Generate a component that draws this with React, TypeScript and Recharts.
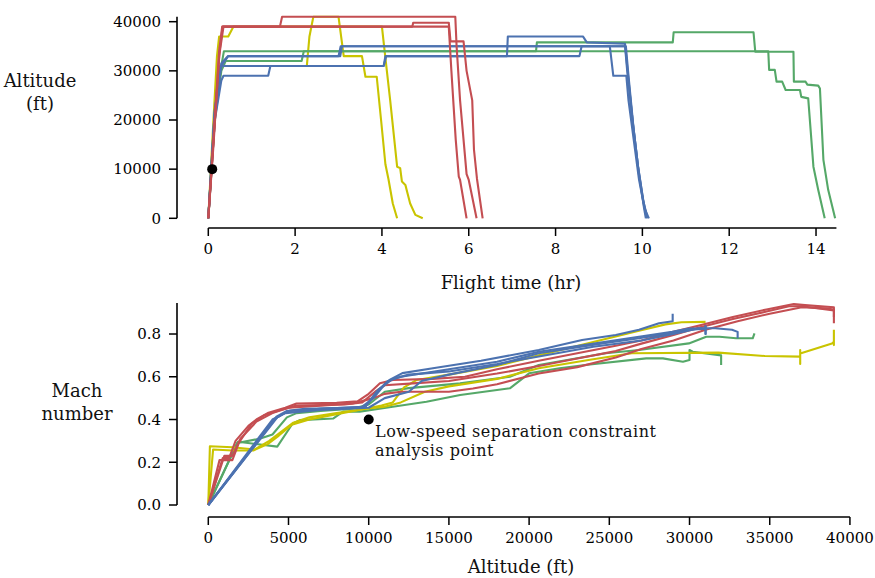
import React from 'react';
import { LineChart, Line, XAxis, YAxis, ReferenceLine, ReferenceDot } from 'recharts';

type P = [number, number];

const RED = '#C44E52';
const BLUE = '#4C72B0';
const GREEN = '#55A868';
const YELLOW = '#C9C400';
const FONT = '"DejaVu Serif", serif';

// ---------- tick labels ----------
const TOP_X_TICKS = [0, 2, 4, 6, 8, 10, 12, 14];
const TOP_Y_TICKS = [0, 10000, 20000, 30000, 40000];
const BOT_X_TICKS = [0, 5000, 10000, 15000, 20000, 25000, 30000, 35000, 40000];
const BOT_Y_TICKS = [0, 0.2, 0.4, 0.6, 0.8];

// ---------- top: flight time (hr) vs altitude (ft) ----------
const Y1_TOP: P[] = [[0,0],[0.1,17000],[0.2,33000],[0.25,37000],[0.46,37000],[0.58,39000],[4.0,39000],[4.05,35000],[4.19,24000],[4.35,10500],[4.42,10200],[4.46,7500],[4.54,6800],[4.58,5400],[4.65,3000],[4.77,700],[4.94,0]];
const Y2_TOP: P[] = [[0,0],[0.12,17000],[0.22,28000],[0.3,31000],[2.27,31000],[2.33,37000],[2.42,41000],[3.0,41000],[3.12,33000],[3.54,33000],[3.62,28800],[3.88,28800],[3.98,20000],[4.08,11000],[4.15,8000],[4.25,3000],[4.35,0]];
const G1_TOP: P[] = [[0,0],[0.15,20000],[0.3,30000],[0.4,32000],[2.15,32000],[2.2,34000],[12.9,34000],[12.92,30200],[13.05,30200],[13.09,27800],[13.22,27800],[13.3,26100],[13.63,26100],[13.66,24700],[13.82,24400],[13.94,10500],[14.05,5800],[14.2,0]];
const G2_TOP: P[] = [[0,0],[0.15,21000],[0.3,31000],[0.36,34000],[7.55,34000],[7.57,35800],[10.7,35800],[10.72,37850],[12.56,37850],[12.6,33900],[13.48,33900],[13.49,27800],[13.76,27800],[13.8,27200],[14.05,27000],[14.09,26400],[14.17,11900],[14.28,5800],[14.44,0]];
const B1_TOP: P[] = [[0,0],[0.15,20000],[0.3,28000],[0.35,29000],[1.38,29000],[1.43,31000],[4.04,31000],[4.08,33000],[6.88,33000],[6.9,37000],[8.63,37000],[8.72,35800],[9.6,35500],[9.66,30000],[9.78,19300],[9.9,10500],[10.02,3700],[10.1,0]];
const B2_TOP: P[] = [[0,0],[0.15,22000],[0.3,31000],[0.46,33000],[3.04,33000],[3.08,35000],[9.6,35000],[9.65,30000],[9.78,19500],[9.9,10500],[10.02,3500],[10.12,0]];
const B3_TOP: P[] = [[0,0],[0.15,22000],[0.27,31000],[4.04,31000],[4.1,33000],[8.55,33000],[8.6,35000],[9.25,35000],[9.33,29000],[9.63,29000],[9.68,24000],[9.8,16000],[9.92,8000],[10.05,2000],[10.15,0]];
const B4_TOP: P[] = [[0,0],[0.14,21000],[0.3,31500],[0.45,33000],[3.0,33000],[3.05,35000],[9.62,35000],[9.68,29000],[9.8,18000],[9.92,9000],[10.04,2000],[10.08,0]];
const R1_TOP: P[] = [[0,0],[0.12,15000],[0.25,33000],[0.35,39000],[1.65,39000],[1.7,41000],[5.69,41000],[5.72,35000],[5.8,24000],[5.95,9000],[6.0,7800],[6.18,0]];
const R2_TOP: P[] = [[0,0],[0.12,16000],[0.26,34000],[0.33,39000],[4.7,39000],[4.72,39800],[5.54,39800],[5.58,36000],[5.88,36000],[5.95,30000],[6.08,24000],[6.12,14000],[6.19,8000],[6.32,0]];
const R3_TOP: P[] = [[0,0],[0.12,16000],[0.25,34000],[0.32,39000],[5.54,39000],[5.6,30000],[5.7,16000],[5.77,8500],[5.8,7800],[5.95,0]];

// ---------- bottom: altitude (ft) vs Mach number ----------
const G32_BOT: P[] = [[0,0],[1850,0.296],[4300,0.273],[5250,0.38],[5700,0.397],[7800,0.405],[8400,0.437],[9440,0.437],[11500,0.46],[13600,0.483],[15700,0.515],[18800,0.546],[20000,0.616],[21900,0.64],[23500,0.655],[27300,0.686],[28340,0.686],[29590,0.67],[30000,0.678],[30000,0.725],[30200,0.717],[31970,0.70],[31970,0.655]];
const G34_BOT: P[] = [[0,0],[1800,0.29],[3200,0.31],[4000,0.33],[4900,0.41],[5500,0.43],[7000,0.44],[9000,0.45],[10000,0.47],[11000,0.53],[12500,0.547],[15700,0.569],[18800,0.60],[20600,0.655],[24770,0.71],[26850,0.725],[29960,0.756],[31040,0.787],[31870,0.787],[32900,0.78],[33940,0.78],[34050,0.803]];
const Y31_BOT: P[] = [[0,0],[100,0.275],[1500,0.27],[2900,0.26],[3800,0.30],[4500,0.34],[5300,0.385],[6300,0.41],[8000,0.43],[9800,0.45],[10800,0.465],[11500,0.48],[12200,0.55],[13000,0.585],[15000,0.61],[18000,0.65],[20600,0.70],[23300,0.75],[26850,0.815],[28500,0.845],[29500,0.855],[31000,0.857]];
const Y39_BOT: P[] = [[0,0],[300,0.26],[1500,0.255],[2800,0.255],[3700,0.285],[4400,0.325],[5200,0.375],[6300,0.40],[8000,0.425],[9800,0.45],[11000,0.46],[12000,0.48],[13500,0.53],[15000,0.555],[18000,0.59],[20600,0.64],[23700,0.678],[26400,0.71],[31800,0.713],[34700,0.697],[36900,0.694],[36900,0.66],[36900,0.725],[36900,0.709],[38880,0.756],[39000,0.764],[39000,0.748],[39000,0.82]];
const R1_BOT: P[] = [[0,0],[900,0.22],[1300,0.22],[1700,0.30],[2500,0.37],[3000,0.40],[3700,0.43],[4800,0.455],[5500,0.475],[8000,0.478],[9300,0.485],[10000,0.52],[10700,0.57],[11500,0.585],[14000,0.59],[16000,0.60],[18000,0.635],[20600,0.675],[23000,0.71],[25400,0.745],[27000,0.77],[29000,0.81],[30600,0.84],[32700,0.88],[34800,0.915],[36500,0.94],[37200,0.935],[39000,0.925],[39000,0.91]];
const R2_BOT: P[] = [[0,0],[700,0.21],[1500,0.21],[1900,0.29],[2700,0.38],[3500,0.42],[4500,0.445],[5500,0.465],[8500,0.47],[9600,0.48],[10400,0.53],[11000,0.56],[13000,0.57],[15000,0.58],[18000,0.615],[20600,0.65],[23000,0.685],[25400,0.72],[27000,0.755],[29000,0.795],[30600,0.83],[32700,0.87],[34800,0.905],[36200,0.93],[37000,0.93],[39000,0.91],[39000,0.85]];
const R3_BOT: P[] = [[0,0],[1000,0.23],[1500,0.23],[2000,0.31],[3000,0.39],[4000,0.43],[5000,0.455],[7000,0.465],[9000,0.475],[10300,0.50],[11000,0.52],[12000,0.53],[15000,0.53],[16500,0.545],[18000,0.565],[20600,0.615],[23000,0.645],[25400,0.69],[27000,0.73],[29000,0.77],[31000,0.82],[33000,0.86],[35000,0.895],[37000,0.925],[38500,0.92],[39000,0.915],[39000,0.88]];
const B29_BOT: P[] = [[0,0],[4250,0.413],[4900,0.44],[6000,0.45],[9500,0.455],[10300,0.50],[11000,0.565],[11300,0.585],[12100,0.617],[14000,0.64],[17000,0.675],[20600,0.725],[23300,0.772],[25400,0.795],[26850,0.82],[28100,0.85],[28950,0.86],[28950,0.895]];
const B31A_BOT: P[] = [[0,0],[4300,0.41],[5000,0.44],[7000,0.45],[9800,0.46],[10500,0.53],[11200,0.58],[12000,0.60],[15000,0.635],[18000,0.67],[20600,0.717],[24770,0.764],[26850,0.787],[28920,0.81],[29960,0.826],[31000,0.826],[31000,0.80],[31000,0.84]];
const B31B_BOT: P[] = [[0,0],[4000,0.40],[4800,0.43],[7000,0.445],[10000,0.455],[11000,0.50],[12500,0.53],[13300,0.58],[15000,0.61],[18000,0.655],[20600,0.71],[24770,0.758],[26850,0.78],[28920,0.805],[30000,0.82],[31000,0.825],[31000,0.80],[31000,0.84]];
const B33_BOT: P[] = [[0,0],[4200,0.405],[5000,0.44],[7000,0.45],[9800,0.46],[10600,0.54],[11500,0.59],[12500,0.61],[15000,0.625],[18000,0.66],[20600,0.695],[24000,0.74],[27000,0.77],[29000,0.80],[30600,0.827],[31600,0.827],[32650,0.82],[33000,0.81],[33000,0.78]];

const ANALYSIS_TOP: P = [0.09, 10000];
const ANALYSIS_BOT: P = [10000, 0.40];

const TOP_SERIES: { name: string; pts: P[]; color: string }[] = [
  { name: 'y1', pts: Y1_TOP, color: YELLOW },
  { name: 'y2', pts: Y2_TOP, color: YELLOW },
  { name: 'g1', pts: G1_TOP, color: GREEN },
  { name: 'g2', pts: G2_TOP, color: GREEN },
  { name: 'b1', pts: B1_TOP, color: BLUE },
  { name: 'b2', pts: B2_TOP, color: BLUE },
  { name: 'b3', pts: B3_TOP, color: BLUE },
  { name: 'b4', pts: B4_TOP, color: BLUE },
  { name: 'r1', pts: R1_TOP, color: RED },
  { name: 'r2', pts: R2_TOP, color: RED },
  { name: 'r3', pts: R3_TOP, color: RED },
];

const BOT_SERIES: { name: string; pts: P[]; color: string }[] = [
  { name: 'g32', pts: G32_BOT, color: GREEN },
  { name: 'g34', pts: G34_BOT, color: GREEN },
  { name: 'y31', pts: Y31_BOT, color: YELLOW },
  { name: 'y39', pts: Y39_BOT, color: YELLOW },
  { name: 'r1', pts: R1_BOT, color: RED },
  { name: 'r2', pts: R2_BOT, color: RED },
  { name: 'r3', pts: R3_BOT, color: RED },
  { name: 'b29', pts: B29_BOT, color: BLUE },
  { name: 'b31a', pts: B31A_BOT, color: BLUE },
  { name: 'b31b', pts: B31B_BOT, color: BLUE },
  { name: 'b33', pts: B33_BOT, color: BLUE },
];

const toPts = (a: P[]) => a.map(([x, y]) => ({ x, y }));

const TOP_XD: [number, number] = [-0.721, 15.013];
const TOP_YD: [number, number] = [-1973, 42380];
const BOT_XD: [number, number] = [-1951, 40628];
const BOT_YD: [number, number] = [-0.0561, 0.9825];

const tickStyle = { fill: '#000', fontSize: 15, fontFamily: FONT };
const tickLine = { stroke: '#000', strokeWidth: 1.5 };

const Label = ({ x, y, size, lines, align = 'center', lh, ls }: { x: number; y: number; size: number; lines: string[]; align?: string; lh?: number; ls?: number }) => (
  <div
    style={{
      position: 'absolute',
      left: x,
      top: y,
      transform: align === 'center' ? 'translate(-50%, -50%)' : 'translate(0, -50%)',
      fontFamily: FONT,
      fontSize: size,
      lineHeight: `${lh ?? Math.round(size * 1.2)}px`,
      letterSpacing: ls ? `${ls}px` : undefined,
      textAlign: align as any,
      whiteSpace: 'nowrap',
      color: '#111',
    }}
  >
    {lines.map((l, i) => (
      <div key={i}>{l}</div>
    ))}
  </div>
);

export default function App() {
  return (
    <div style={{ position: 'absolute', left: 0, top: 0, width: 875, height: 578, background: '#fff', overflow: 'hidden' }}>
      <div style={{ position: 'absolute', left: 0, top: 0 }}>
        <LineChart width={875} height={268} margin={{ top: 10, right: 15, bottom: 0, left: 0 }}>
          <XAxis
            type="number"
            dataKey="x"
            domain={TOP_XD}
            allowDataOverflow
            ticks={TOP_X_TICKS}
            axisLine={false}
            tickLine={tickLine}
            tickSize={8}
            tickMargin={7}
            tick={tickStyle}
            height={40}
            interval={0}
          />
          <YAxis
            type="number"
            domain={TOP_YD}
            allowDataOverflow
            ticks={TOP_Y_TICKS}
            axisLine={false}
            tickLine={tickLine}
            tickSize={8}
            tickMargin={8}
            tick={tickStyle}
            width={177}
            interval={0}
          />
          {TOP_SERIES.map((s) => (
            <Line
              key={s.name}
              data={toPts(s.pts)}
              dataKey="y"
              stroke={s.color}
              strokeWidth={2.1}
              dot={false}
              activeDot={false}
              isAnimationActive={false}
              strokeLinejoin="round"
            />
          ))}
          <ReferenceLine segment={[{ x: TOP_XD[0], y: 0 }, { x: TOP_XD[0], y: 41000 }]} stroke="#000" strokeWidth={1.6} ifOverflow="visible" />
          <ReferenceLine segment={[{ x: 0, y: TOP_YD[0] }, { x: 14.47, y: TOP_YD[0] }]} stroke="#000" strokeWidth={1.6} ifOverflow="visible" />
          <ReferenceDot x={ANALYSIS_TOP[0]} y={ANALYSIS_TOP[1]} r={5} fill="#000" stroke="none" ifOverflow="visible" />
        </LineChart>
      </div>
      <div style={{ position: 'absolute', left: 0, top: 280 }}>
        <LineChart width={875} height={277} margin={{ top: 15, right: 15, bottom: 0, left: 0 }}>
          <XAxis
            type="number"
            dataKey="x"
            domain={BOT_XD}
            allowDataOverflow
            ticks={BOT_X_TICKS}
            axisLine={false}
            tickLine={tickLine}
            tickSize={8}
            tickMargin={7}
            tick={tickStyle}
            height={40}
            interval={0}
          />
          <YAxis
            type="number"
            domain={BOT_YD}
            allowDataOverflow
            ticks={BOT_Y_TICKS}
            tickFormatter={(v: number) => v.toFixed(1)}
            axisLine={false}
            tickLine={tickLine}
            tickSize={8}
            tickMargin={8}
            tick={tickStyle}
            width={177}
            interval={0}
          />
          {BOT_SERIES.map((s) => (
            <Line
              key={s.name}
              data={toPts(s.pts)}
              dataKey="y"
              stroke={s.color}
              strokeWidth={2.1}
              dot={false}
              activeDot={false}
              isAnimationActive={false}
              strokeLinejoin="round"
            />
          ))}
          <ReferenceLine segment={[{ x: BOT_XD[0], y: 0 }, { x: BOT_XD[0], y: 0.945 }]} stroke="#000" strokeWidth={1.6} ifOverflow="visible" />
          <ReferenceLine segment={[{ x: 0, y: BOT_YD[0] }, { x: 40000, y: BOT_YD[0] }]} stroke="#000" strokeWidth={1.6} ifOverflow="visible" />
          <ReferenceDot x={ANALYSIS_BOT[0]} y={ANALYSIS_BOT[1]} r={5} fill="#000" stroke="none" ifOverflow="visible" />
        </LineChart>
      </div>
      <Label x={40} y={92} size={18} lh={23} lines={['Altitude', '(ft)']} />
      <Label x={77} y={402} size={18} lh={23} lines={['Mach', 'number']} />
      <Label x={511} y={283} size={18} lines={['Flight time (hr)']} />
      <Label x={521} y={567} size={18} lines={['Altitude (ft)']} />
      <Label x={375} y={441} size={16} lh={19} ls={0.5} align="left" lines={['Low-speed separation constraint', 'analysis point']} />
    </div>
  );
}
